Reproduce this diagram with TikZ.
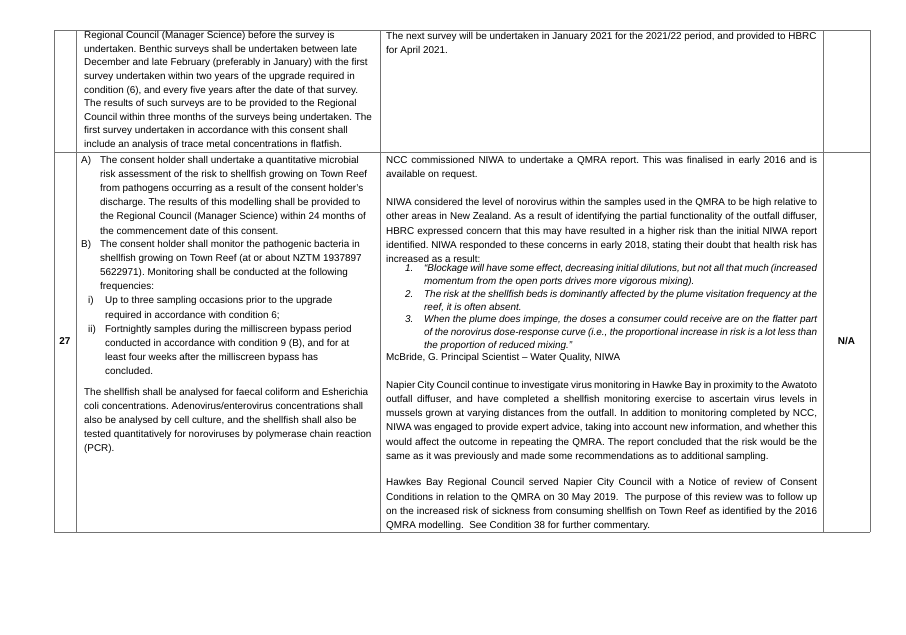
\documentclass[tikz,border=0pt]{standalone}
\usepackage{fontspec}
\setmainfont{Liberation Sans}
\newcommand{\fs}{\fontsize{9.9}{14.2}\selectfont\frenchspacing\hyphenpenalty=10000\exhyphenpenalty=10000}
\newcommand{\fst}{\fontsize{9.9}{13.6}\selectfont\frenchspacing}
\newcommand{\fsi}{\fontsize{9.9}{12.8}\selectfont\frenchspacing\hyphenpenalty=10000\exhyphenpenalty=10000}
\begin{document}
\begin{tikzpicture}[x=1pt,y=-1pt,
  grid/.style={draw=black!55, line width=0.9pt},
  txt/.style={anchor=north west, inner sep=0pt, align=left, font=\fs},
  jtxt/.style={anchor=north west, inner sep=0pt, text width=431pt, align=justify, font=\fs},
  lab/.style={anchor=center, inner sep=0pt, font=\fs\bfseries}]
\useasboundingbox (0,0) rectangle (906,635);
% grid
\draw[grid] (54,30) -- (870,30) (54,152) -- (870,152) (54,532) -- (870,532);
\draw[grid] (54,30) -- (54,532) (76,30) -- (76,532) (380,30) -- (380,532) (823,30) -- (823,532) (870,30) -- (870,532);
% left top
\node[txt, font=\fst] (lt) at (84,29) {\strut Regional Council (Manager Science) before the survey is\\
undertaken. Benthic surveys shall be undertaken between late\\
December and late February (preferably in January) with the first\\
survey undertaken within two years of the upgrade required in\\
condition (6), and every five years after the date of that survey.\\
The results of such surveys are to be provided to the Regional\\
Council within three months of the surveys being undertaken. The\\
first survey undertaken in accordance with this consent shall\\
include an analysis of trace metal concentrations in flatfish.};
% right top
\node[txt] (rt) at (386,29) {\strut The next survey will be undertaken in January 2021 for the 2021/22 period, and provided to HBRC\\
for April 2021.};
% left row 2
\node[txt] (la) at (81,153) {\strut A)};
\node[txt] (lat) at (100,153) {\strut The consent holder shall undertake a quantitative microbial\\
risk assessment of the risk to shellfish growing on Town Reef\\
from pathogens occurring as a result of the consent holder's\\
discharge. The results of this modelling shall be provided to\\
the Regional Council (Manager Science) within 24 months of\\
the commencement date of this consent.};
\node[txt] (lb) at (81,237) {\strut B)};
\node[txt] (lbt) at (100,237) {\strut The consent holder shall monitor the pathogenic bacteria in\\
shellfish growing on Town Reef (at or about NZTM 1937897\\
5622971). Monitoring shall be conducted at the following\\
frequencies:};
\node[txt] (li) at (88,293.8) {\strut i)};
\node[txt] (lit) at (105,293.8) {\strut Up to three sampling occasions prior to the upgrade\\
required in accordance with condition 6;};
\node[txt] (lii) at (88,322.2) {\strut ii)};
\node[txt] (liit) at (105,322.2) {\strut Fortnightly samples during the milliscreen bypass period\\
conducted in accordance with condition 9 (B), and for at\\
least four weeks after the milliscreen bypass has\\
concluded.};
\node[txt] (ls) at (84,385) {\strut The shellfish shall be analysed for faecal coliform and Esherichia\\
coli concentrations. Adenovirus/enterovirus concentrations shall\\
also be analysed by cell culture, and the shellfish shall also be\\
tested quantitatively for noroviruses by polymerase chain reaction\\
(PCR).};
% right row 2
\node[jtxt] (r1) at (386,153) {\strut NCC commissioned NIWA to undertake a QMRA report. This was finalised in early 2016 and is\linebreak
available on request.};
\node[jtxt] (r2) at (386,195.6) {\strut NIWA considered the level of norovirus within the samples used in the QMRA to be high relative to\linebreak
other areas in New Zealand. As a result of identifying the partial functionality of the outfall diffuser,\linebreak
HBRC expressed concern that this may have resulted in a higher risk than the initial NIWA report\linebreak
identified. NIWA responded to these concerns in early 2018, stating their doubt that health risk has\linebreak
increased as a result:};
\node[anchor=north west, inner sep=0pt, text width=412pt, align=justify, font=\fsi\itshape] (ri) at (405,262.6) {%
\hangindent=19pt\hangafter=1\noindent\makebox[19pt][l]{\strut 1.}``Blockage will have some effect, decreasing initial dilutions, but not all that much (increased\linebreak
momentum from the open ports drives more vigorous mixing).\par
\hangindent=19pt\hangafter=1\noindent\makebox[19pt][l]{\strut 2.}The risk at the shellfish beds is dominantly affected by the plume visitation frequency at the\linebreak
reef, it is often absent.\par
\hangindent=19pt\hangafter=1\noindent\makebox[19pt][l]{\strut 3.}When the plume does impinge, the doses a consumer could receive are on the flatter part\linebreak
of the norovirus dose-response curve (i.e., the proportional increase in risk is a lot less than\linebreak
the proportion of reduced mixing.''\par};
\node[txt] (rm) at (386,350) {\strut McBride, G. Principal Scientist -- Water Quality, NIWA};
\node[jtxt] (rn) at (386,378.2) {\strut Napier City Council continue to investigate virus monitoring in Hawke Bay in proximity to the Awatoto\linebreak
outfall diffuser, and have completed a shellfish monitoring exercise to ascertain virus levels in\linebreak
mussels grown at varying distances from the outfall. In addition to monitoring completed by NCC,\linebreak
NIWA was engaged to provide expert advice, taking into account new information, and whether this\linebreak
would affect the outcome in repeating the QMRA. The report concluded that the risk would be the\linebreak
same as it was previously and made some recommendations as to additional sampling.};
\node[jtxt] (rh) at (386,475.8) {\strut Hawkes Bay Regional Council served Napier City Council with a Notice of review of Consent\linebreak
Conditions in relation to the QMRA on 30 May 2019.\ \ The purpose of this review was to follow up\linebreak
on the increased risk of sickness from consuming shellfish on Town Reef as identified by the 2016\linebreak
QMRA modelling.\ \ See Condition 38 for further commentary.};
% labels
\node[lab] (n27) at (65,341) {27};
\node[lab] (na) at (846.5,341) {N/A};
\end{tikzpicture}
\end{document}
